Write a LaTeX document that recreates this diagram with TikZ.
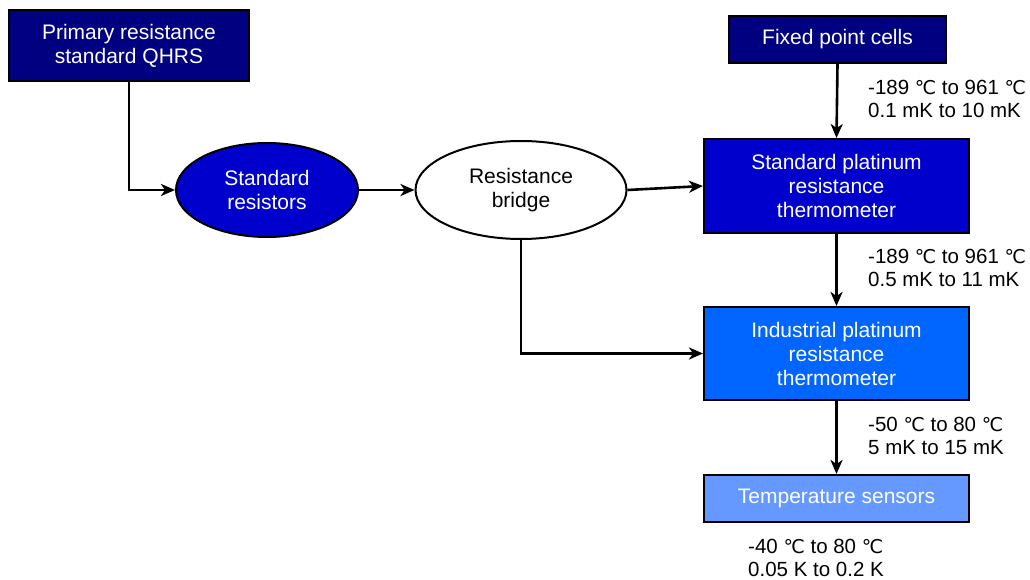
\documentclass[tikz,border=0pt]{standalone}
\usepackage{fontspec}
\setmainfont{Liberation Sans}
\newfontfamily\dvfont{DejaVu Sans}
\usetikzlibrary{arrows.meta,shapes.geometric}
\newcommand{\dgc}{{\dvfont\fontsize{19}{22}\selectfont ℃}}
\definecolor{navy}{RGB}{0,0,128}
\definecolor{midblue}{RGB}{0,0,204}
\definecolor{sprtblue}{RGB}{0,0,204}
\definecolor{iprtblue}{RGB}{0,102,255}
\definecolor{sensblue}{RGB}{102,153,255}
\begin{document}
\begin{tikzpicture}[x=1pt,y=-1pt,
  font=\fontsize{21}{24}\selectfont,
  box/.style={draw=black, line width=2pt, text=white, align=center, inner sep=0pt},
  ell/.style={ellipse, draw=black, line width=2pt, align=center, inner sep=0pt},
  conn/.style={line width=2.6pt, -{Stealth[length=14pt,width=12pt,inset=4pt]}},
  lbl/.style={anchor=west, align=left, inner sep=0pt, text=black, font=\fontsize{20.5}{23}\selectfont}]
\useasboundingbox (0,0) rectangle (1030,580);
\fill[white] (0,0) rectangle (1030,580);

\node[box, fill=navy, minimum width=240pt, minimum height=71pt] (prim) at (129,45.5) {Primary resistance\\standard QHRS};
\node[ell, fill=midblue, text=white, minimum width=182pt, minimum height=94pt] (sr) at (267,190) {Standard\\resistors};
\node[ell, fill=white, text=black, minimum width=211pt, minimum height=98pt] (rb) at (521,190) {Resistance\\bridge};
\node[box, fill=navy, minimum width=217pt, minimum height=47pt] (fpc) at (837.5,39.5) {Fixed point cells};
\node[box, fill=sprtblue, minimum width=265pt, minimum height=94pt] (sprt) at (836.5,186) {Standard platinum\\resistance\\thermometer};
\node[box, fill=iprtblue, minimum width=265pt, minimum height=93pt] (iprt) at (836.5,353.5) {Industrial platinum\\resistance\\thermometer};
\node[box, fill=sensblue, minimum width=265pt, minimum height=47pt] (ts) at (836.5,498.5) {Temperature sensors};

\draw[conn] (prim.south) |- (sr.west);
\draw[conn] (sr.east) -- (rb.west);
\draw[conn] (rb.east) -- (sprt.west);
\draw[conn] (rb.south) |- (iprt.west);
\draw[conn] (fpc.south) -- (sprt.north);
\draw[conn] (sprt.south) -- (iprt.north);
\draw[conn] (iprt.south) -- (ts.north);

\node[lbl] (l1) at (868,99) {-189 \dgc{} to 961 \dgc\\0.1 mK to 10 mK};
\node[lbl] (l2) at (868,267.5) {-189 \dgc{} to 961 \dgc\\0.5 mK to 11 mK};
\node[lbl] (l3) at (868,435.5) {-50 \dgc{} to 80 \dgc\\5 mK to 15 mK};
\node[lbl] (l4) at (748,557.5) {-40 \dgc{} to 80 \dgc\\0.05 K to 0.2 K};
\end{tikzpicture}
\end{document}
